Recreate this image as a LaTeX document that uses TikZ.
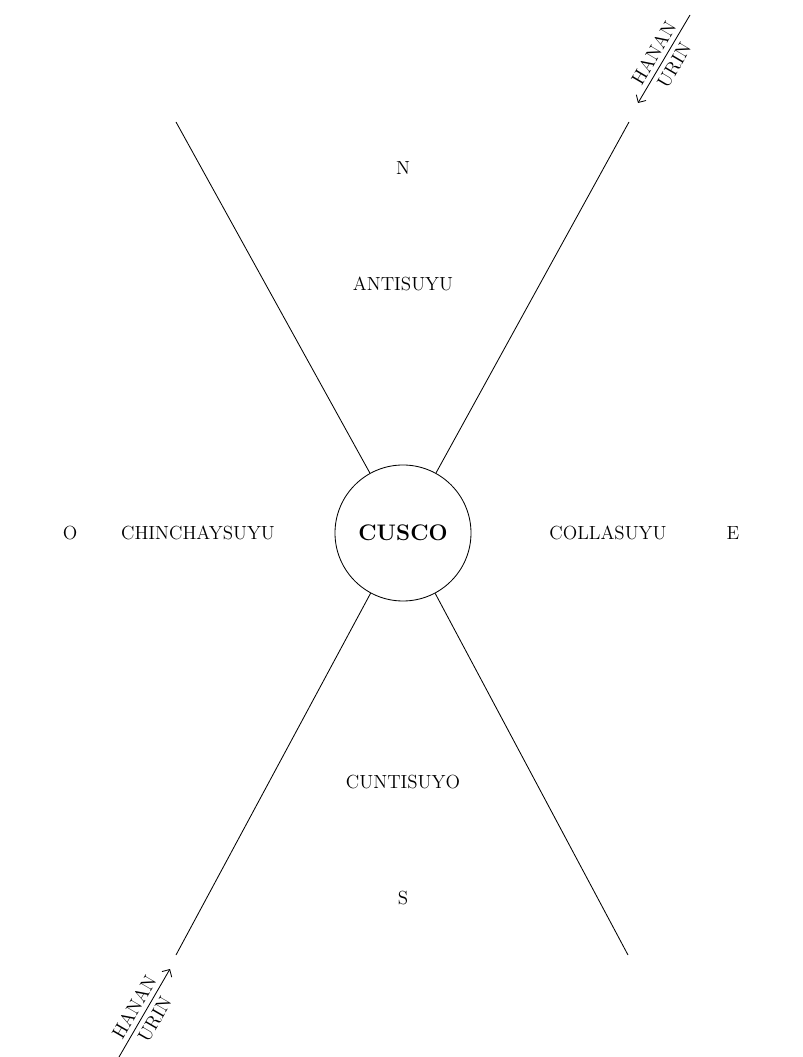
\documentclass[tikz,border=0pt]{standalone}
\usepackage{tikz}
\usetikzlibrary{arrows.meta,positioning,calc}

\tikzset{
  suyu/.style={font=\fontsize{13.5}{16}\selectfont},
  cardinal/.style={font=\fontsize{13.5}{16}\selectfont},
  capital/.style={circle,draw,line width=0.6pt,minimum size=3.4cm,inner sep=0pt,
                  font=\fontsize{16}{19}\selectfont\bfseries},
  moiety/.style={font=\fontsize{13.5}{16}\selectfont,sloped,inner sep=3.5pt},
  halfarrow/.style={-{Straight Barb[length=4pt,width=8pt]},line width=0.6pt}
}

\begin{document}
\begin{tikzpicture}[x=1cm,y=1cm]
  \useasboundingbox (-10.075,-13.1) rectangle (10.0,13.325);

  % Centre
  \node[capital] (cusco) at (0,0) {CUSCO};

  % Extrémités des diagonales
  \coordinate (nw) at (-5.675,10.275);
  \coordinate (ne) at (5.65,10.275);
  \coordinate (sw) at (-5.675,-10.55);
  \coordinate (se) at (5.625,-10.55);
  \foreach \c in {nw,ne,sw,se} {
    \draw[line width=0.6pt] (cusco) -- (\c);
  }

  % Suyus et points cardinaux
  \node[cardinal] (n) at (0,9.125) {N};
  \node[suyu] (anti) at (0,6.225) {ANTISUYU};
  \node[suyu] (cunti) at (0,-6.225) {CUNTISUYO};
  \node[cardinal] (s) at (0,-9.125) {S};
  \node[cardinal] (o) at (-8.325,0) {O};
  \node[suyu] (chinchay) at (-5.125,0) {CHINCHAYSUYU};
  \node[suyu] (colla) at (5.125,0) {COLLASUYU};
  \node[cardinal] (e) at (8.25,0) {E};

  % Hanan / Urin
  \coordinate (hne1) at (7.175,12.95);
  \coordinate (hne2) at (5.875,10.75);
  \coordinate (hsw1) at (-7.1,-13.1);
  \coordinate (hsw2) at (-5.825,-10.9);
  \draw[halfarrow] (hne1) -- node[moiety,above] {HANAN}
        node[moiety,below] {URIN} (hne2);
  \draw[halfarrow] (hsw1) -- node[moiety,above] {HANAN}
        node[moiety,below] {URIN} (hsw2);

\end{tikzpicture}
\end{document}
